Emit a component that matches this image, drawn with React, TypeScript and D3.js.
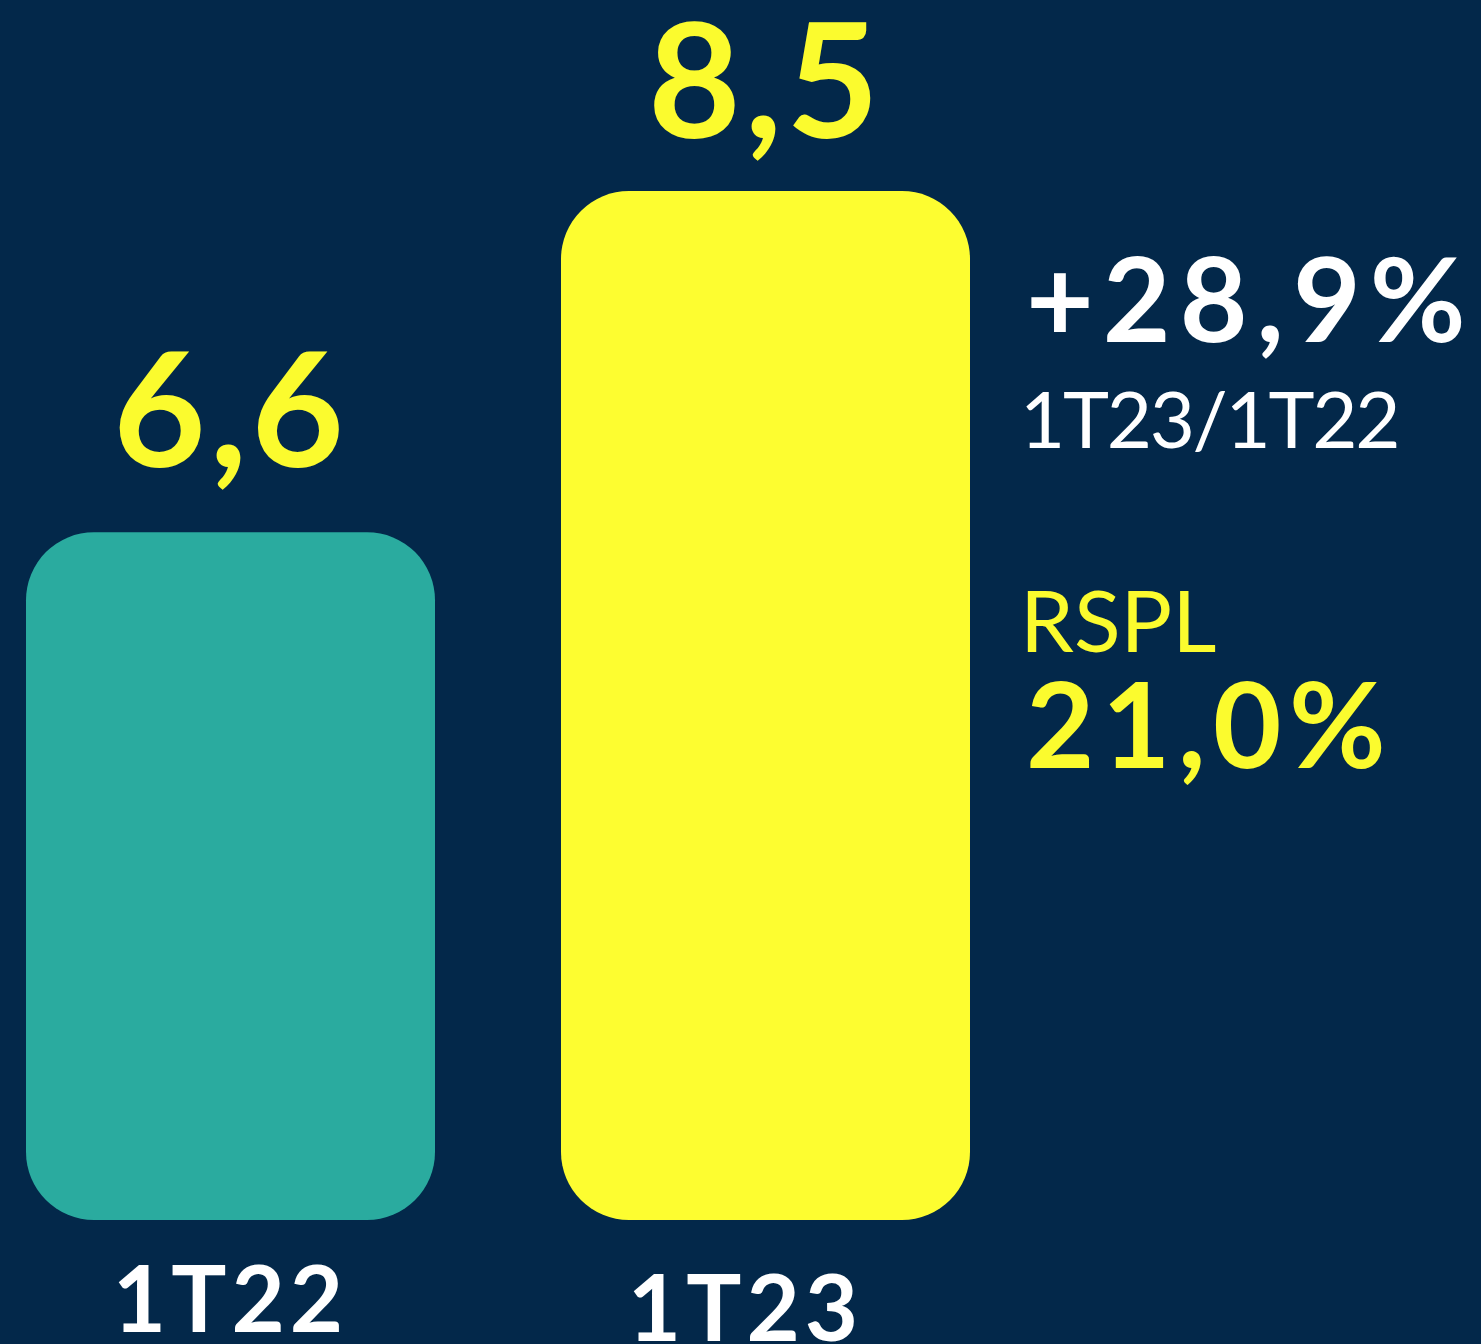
import React from "react";
import * as d3 from "d3";

const categories = ["1T22", "1T23"];
const values = [6.6, 8.5];
const valueLabels = ["6,6", "8,5"];
const growthLabel = "+28,9%";
const growthSub = "1T23/1T22";
const rsplLabel = "RSPL";
const rsplValue = "21,0%";

const W = 1481;
const H = 1344;
const BG = "#03284A";
const BAR_COLORS = ["#2AAB9F", "#FDFD30"];
const YELLOW = "#FBFB2E";
const FONT = "Lato, 'Open Sans', sans-serif";
const LABEL_GAP = [65, 53];
const CAT_SHIFT = [0, -20];
const CAT_BASE = [1332, 1341];

export default function App() {
  const x = d3.scaleBand<string>().domain(categories).range([26, 970]).paddingInner(0.2355).paddingOuter(0);
  const y = d3.scaleLinear().domain([2.77, 8.5]).range([1220, 191]);
  const r = 68;
  return (
    <svg width={W} height={H} style={{ position: "absolute", left: 0, top: 0, display: "block" }}>
      <rect x={0} y={0} width={W} height={H} fill={BG} />
      {categories.map((c, i) => {
        const bx = x(c)!;
        const bw = x.bandwidth();
        const by = y(values[i]);
        const bh = y(y.domain()[0]) - by;
        return (
          <g key={c}>
            <rect x={bx} y={by} width={bw} height={bh} rx={r} ry={r} fill={BAR_COLORS[i]} />
            <text x={bx + bw / 2} y={by - LABEL_GAP[i]} textAnchor="middle" fontFamily={FONT} fontWeight={700} fontSize={160} fill={YELLOW} letterSpacing={4}>
              {valueLabels[i]}
            </text>
            <text x={bx + bw / 2 + CAT_SHIFT[i]} y={CAT_BASE[i]} textAnchor="middle" fontFamily={FONT} fontWeight={700} fontSize={92} fill="#FFFFFF" letterSpacing={5}>
              {c}
            </text>
          </g>
        );
      })}
      <text x={1026} y={342} fontFamily={FONT} fontWeight={700} fontSize={117} fill="#FFFFFF" letterSpacing={9}>
        {growthLabel}
      </text>
      <text x={1020} y={448} fontFamily={FONT} fontWeight={400} fontSize={78} fill="#FFFFFF" letterSpacing={-2.3}>
        {growthSub}
      </text>
      <text x={1020} y={652} fontFamily={FONT} fontWeight={400} fontSize={86} fill={YELLOW}>
        {rsplLabel}
      </text>
      <text x={1026} y={768} fontFamily={FONT} fontWeight={700} fontSize={118} fill={YELLOW} letterSpacing={7.5}>
        {rsplValue}
      </text>
    </svg>
  );
}
